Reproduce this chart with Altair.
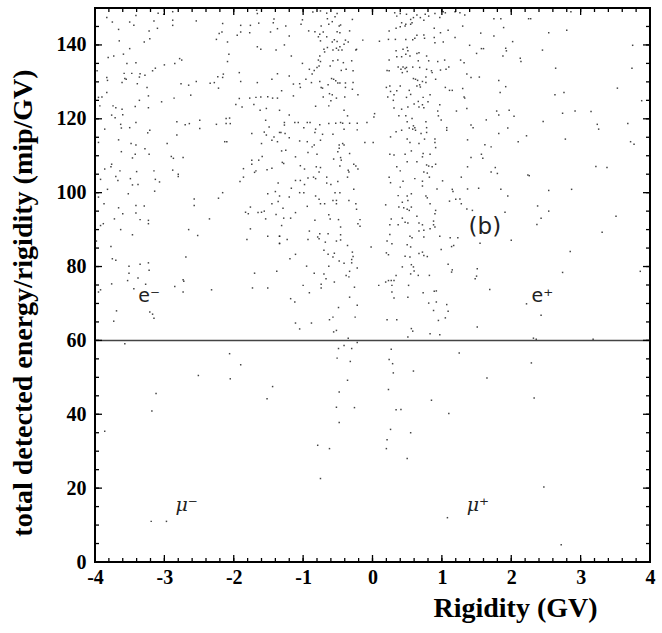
import altair as alt
import pandas as pd

# ---- data (rigidity GV, energy/rigidity mip/GV) ----
pts_upper_left = [
(-3.09,148.6),(-3.01,148.3),(-2.88,149.0),(-1.66,148.5),(-1.67,149.4),(-3.41,148.0),(-3.83,147.4),(-3.75,146.2),
(-3.50,146.2),(-3.44,145.3),(-3.15,146.5),(-2.88,146.7),(-2.88,145.3),(-2.54,146.5),(-2.16,145.8),(-1.90,145.3),
(-1.76,145.3),(-1.64,145.9),(-1.42,147.0),(-1.43,146.0),(-3.66,144.2),(-3.22,143.8),(-3.10,144.5),(-2.17,143.5),
(-2.21,143.1),(-1.90,143.5),(-1.77,143.3),(-1.47,143.5),(-1.95,142.6),(-1.37,144.4),(-3.21,141.7),(-3.29,140.8),
(-3.65,141.1),(-2.25,141.5),(-2.09,140.8),(-1.66,139.5),(-1.61,138.8),(-1.39,138.6),(-3.50,139.0),(-3.59,137.5),
(-3.73,137.0),(-3.81,136.6),(-2.07,137.5),(-2.78,136.3),(-2.75,135.9),(-2.85,135.0),(-3.54,135.0),(-3.41,135.2),
(-2.09,135.5),(-3.00,134.6),(-3.13,133.7),(-3.17,133.0),(-3.97,133.0),(-3.58,132.3),(-3.47,132.3),(-3.35,132.2),
(-3.36,131.3),(-3.28,131.8),(-3.55,130.7),(-3.57,130.9),(-3.83,131.2),(-3.82,130.4),(-3.61,129.8),(-3.39,129.5),
(-2.54,130.1),(-2.76,129.5),(-2.65,129.1),(-2.34,129.6),(-2.28,129.8),(-2.22,128.3),(-2.15,132.1),(-2.16,131.2),
(-2.23,131.4),(-1.92,132.5),(-1.90,130.1),(-1.66,129.8),(-1.37,132.2),(-1.45,130.7),(-3.25,128.5),(-3.83,127.1),
(-3.90,125.9),(-3.95,125.8),(-3.23,126.2),(-3.36,125.0),(-2.86,125.6),(-2.62,126.4),(-1.92,125.5),(-1.77,125.6),
(-1.68,125.8),(-1.61,125.9),(-1.51,126.0),(-1.44,125.6),(-1.37,125.6),(-3.04,124.6),(-3.93,123.5),(-3.74,123.5),
(-3.70,123.0),(-3.61,122.6),(-3.42,123.3),(-3.23,123.0),(-1.97,123.9),(-1.88,123.2),(-1.71,123.9),(-1.62,122.3),
(-1.53,122.8),(-1.34,122.3),(-3.76,121.0),(-3.71,120.3),(-3.60,121.1),(-2.06,120.2),(-2.11,120.1),(-3.41,119.0),
(-3.63,118.5),(-2.82,119.2),(-2.70,118.4),(-2.64,118.7),(-2.49,119.6),(-2.49,117.4),(-2.25,118.5),(-2.11,118.7),
(-2.05,118.7),(-1.54,119.6),(-1.49,117.8),(-3.50,117.6),(-3.62,117.5),(-3.86,117.2),(-3.21,116.9),(-3.24,116.2),
(-2.82,115.6),(-1.74,116.0),(-1.56,116.4),(-1.53,115.6),(-1.34,116.3),(-1.42,115.1),(-1.45,114.2),(-1.37,113.8),
(-3.66,114.3),(-3.95,113.6),(-3.48,113.3),(-3.41,112.9),(-2.96,113.3),(-2.13,113.8),(-2.10,113.8),(-1.60,113.3),
(-3.28,111.9),(-3.22,110.4),(-3.62,111.1),(-3.42,110.4),(-3.46,109.4),(-2.90,109.8),(-2.87,109.3),(-2.73,109.5),
(-1.59,109.8),(-1.64,108.8),(-1.74,108.8),(-1.74,107.7),(-3.76,107.7),(-3.77,107.0),(-3.86,106.4),(-3.64,105.9),
(-3.40,105.7),(-3.15,105.9),(-2.88,106.1),(-1.86,106.5),(-1.68,105.9),(-1.70,105.5),(-1.52,106.2),(-1.45,106.6),
(-2.80,105.0),
]

pts_upper_mid = [
(-0.86,148.9),(-0.75,149.2),(-0.66,148.6),(-0.51,148.5),(-0.29,146.9),(0.32,148.7),(0.35,147.8),(0.40,148.5),
(0.49,148.3),(0.55,146.9),(0.59,147.4),(0.64,148.1),(0.69,147.4),(0.76,148.3),(0.81,147.8),(0.74,146.7),
(0.90,148.5),(1.02,149.0),(1.05,148.7),(1.19,149.0),(0.97,147.4),(1.26,148.7),(-1.01,146.8),(-0.65,147.1),
(-0.54,147.6),(-0.58,146.3),(-0.48,145.1),(-0.46,145.4),(-0.63,145.6),(-0.74,145.1),(-0.83,143.6),(-0.92,143.8),
(-0.76,142.9),(-0.71,143.5),(-0.51,143.6),(-0.47,143.3),(-0.33,143.8),(-1.25,145.1),(-1.03,145.6),(-1.20,142.4),
(-1.27,140.0),(-0.75,141.1),(-0.78,142.2),(-0.66,142.2),(-0.55,141.4),(-0.58,140.8),(-0.51,140.9),(-0.39,141.3),
(-0.35,140.8),(-0.41,140.2),(-0.52,139.1),(-0.47,139.5),(-0.44,138.6),(-0.49,138.6),(-0.57,138.6),(-0.70,138.8),
(-0.69,138.1),(-0.65,139.3),(-0.24,138.6),(-0.14,141.3),(0.10,141.0),(0.24,143.8),(0.23,141.5),(0.33,141.5),
(0.34,144.5),(0.40,144.9),(0.42,146.0),(0.47,145.1),(0.48,145.6),(0.55,145.6),(0.57,146.0),(0.48,141.5),
(0.58,141.4),(0.61,141.8),(0.64,142.6),(0.74,142.7),(0.75,141.8),(0.89,144.5),(0.89,142.0),(0.90,140.6),
(0.98,143.3),(1.02,140.8),(1.09,144.0),(1.19,142.0),(1.30,145.1),(-1.17,137.0),(-1.01,135.0),(-0.76,137.0),
(-0.78,135.9),(-0.75,135.5),(-0.80,133.9),(-0.77,134.3),(-0.61,134.3),(-0.57,135.7),(-0.50,135.9),(-0.42,135.2),
(-0.30,135.7),(-0.23,138.8),(-0.45,133.1),(-0.38,133.4),(-0.28,133.0),(-0.91,133.4),(-0.84,133.1),(-0.87,132.1),
(-0.96,130.7),(-1.05,129.5),(-1.04,128.5),(-1.14,129.4),(-0.88,129.8),(-0.76,130.1),(-0.74,128.5),(-0.72,128.3),
(-0.59,130.9),(-0.56,130.7),(-0.53,130.3),(-0.50,129.7),(-0.64,129.2),(-0.47,129.7),(-0.39,129.7),(-0.39,128.5),
(-0.29,128.0),(-0.28,129.8),(-0.71,125.9),(-0.62,126.8),(-0.58,126.5),(-0.60,124.9),(-0.63,123.5),(-0.52,125.6),
(-0.40,125.9),(-0.21,126.5),(-0.82,123.4),(-1.14,126.2),(-1.31,127.6),(-1.20,131.6),(0.34,138.4),(0.35,136.8),
(0.44,138.8),(0.50,139.3),(0.48,137.5),(0.42,136.8),(0.54,137.0),(0.51,138.4),(0.64,137.7),(0.67,137.9),
(0.78,137.0),(0.66,135.7),(0.24,135.9),(0.24,133.0),(0.37,134.0),(0.41,133.4),(0.44,134.0),(0.47,133.6),
(0.43,132.5),(0.49,133.9),(0.50,132.8),(0.58,134.0),(0.68,133.9),(0.59,130.9),(0.62,130.7),(0.65,130.4),
(0.72,130.1),(0.68,129.2),(0.77,131.3),(0.78,133.4),(0.81,135.7),(0.86,132.5),(0.94,135.5),(0.91,130.7),
(0.85,133.0),(0.98,133.2),(1.04,135.9),(1.06,133.4),(1.10,134.0),(1.05,128.5),(1.11,127.7),(1.30,128.2),
(1.32,135.2),(1.15,127.7),(1.27,135.9),(0.21,133.1),(0.20,128.5),(0.25,128.9),(0.26,127.4),(0.22,125.9),
(0.31,126.5),(0.30,125.0),(0.35,127.6),(0.40,128.9),(0.49,125.8),(0.53,127.7),(0.55,126.6),(0.60,124.0),
(0.66,124.7),(0.67,123.2),(0.72,123.8),(0.74,123.0),(0.80,124.6),(0.83,126.5),(0.73,125.8),(0.69,128.6),
(0.64,128.9),(0.77,129.8),(0.51,123.2),(0.42,122.6),(0.31,122.9),(0.48,120.8),(0.38,120.8),(0.50,119.2),
(0.57,120.1),(0.61,117.6),(0.59,118.1),(0.62,116.9),(0.58,117.2),(0.53,117.5),(0.70,116.0),(0.77,119.2),
(0.78,117.6),(0.78,116.3),(0.95,120.8),(0.94,122.1),(0.97,123.8),(0.99,119.7),(1.07,117.6),(1.07,116.9),
(1.21,122.1),(1.32,125.9),(0.42,116.9),(0.26,115.1),(0.34,116.5),(0.54,113.6),(0.67,113.3),(0.75,114.5),
(0.90,114.5),(0.90,113.6),(0.91,112.2),(0.50,114.5),(0.47,110.4),(0.50,108.4),(0.56,111.3),(0.73,110.6),
(0.72,109.7),(0.78,107.5),(0.81,107.2),(0.86,107.0),(0.91,107.7),(0.74,105.6),(0.79,105.3),(0.64,108.4),
(0.35,107.0),(0.40,105.9),(0.31,110.2),(0.25,110.4),(0.83,110.4),(0.03,121.4),(0.02,120.5),(-0.08,119.0),
(-0.22,117.0),(-0.22,118.8),(-0.36,120.8),(-0.33,118.8),(-0.41,122.3),(-0.43,118.8),(-0.46,119.0),(-0.53,118.8),
(-0.63,118.7),(-0.41,117.2),(-0.57,115.8),(-0.72,115.8),(-0.83,116.3),(-0.82,117.2),(-0.76,118.4),(-0.90,119.0),
(-0.94,119.0),(-0.99,117.6),(-1.07,119.0),(-1.12,119.0),(-1.27,119.0),(-1.20,121.0),(-1.27,118.3),(-1.26,116.0),
(-1.20,114.9),(-1.32,116.3),(-1.05,114.0),(-0.94,113.8),(-0.87,112.4),(-0.84,112.9),(-0.75,114.2),(-0.93,110.9),
(-0.80,110.4),(-0.48,112.9),(-0.48,112.0),(-0.43,113.3),(-0.41,112.9),(-0.50,111.1),(-0.33,110.6),(-0.46,109.5),
(-0.45,108.8),(-0.56,109.1),(-0.81,107.0),(-0.75,106.8),(-0.98,106.4),(-0.77,105.6),(-0.47,107.2),(-0.35,106.1),
(-0.34,105.6),(-0.27,107.7),(-0.24,107.2),(-0.21,106.4),(-0.11,113.6),(0.01,113.6),(-1.04,107.3),(-1.30,108.2),
(-1.28,107.9),(-1.11,109.7),(-1.25,111.5),(-1.31,111.3),
]

pts_upper_right = [
(1.33,148.1),(1.75,147.1),(1.85,147.1),(2.25,147.1),(2.28,147.1),(1.89,144.7),(1.56,143.2),(1.75,142.4),
(2.54,143.3),(2.80,144.0),(2.86,149.0),(2.02,140.9),(1.40,139.9),(1.57,139.0),(1.60,139.0),(1.92,139.1),
(1.93,138.4),(2.45,138.6),(1.50,137.7),(1.88,137.0),(2.13,136.4),(2.14,135.5),(2.64,133.7),(3.74,133.7),
(3.75,139.9),(1.36,132.1),(1.42,131.2),(1.54,131.3),(1.82,130.4),(1.92,128.7),(1.84,127.1),(2.63,126.5),
(2.76,127.1),(3.53,128.3),(3.88,124.9),(1.33,125.6),(1.36,122.8),(1.79,122.1),(1.97,122.3),(1.82,121.0),
(2.04,120.7),(1.64,119.7),(2.46,119.3),(2.74,121.5),(2.92,122.1),(3.15,122.0),(1.42,118.3),(1.45,117.6),
(3.24,118.5),(3.26,117.2),(3.68,118.7),(1.95,117.5),(1.82,116.0),(2.22,115.4),(2.10,113.8),(1.37,114.3),
(1.62,113.0),(1.71,112.4),(2.78,114.5),(3.72,113.8),(3.77,113.1),(1.57,110.4),(1.59,109.3),(1.42,109.5),
(1.37,107.0),(1.77,106.8),(1.71,105.6),(1.80,105.2),(2.24,104.8),(3.22,107.1),(3.38,106.8),
]

pts_mid_left = [
(-3.92,103.6),(-3.70,104.4),(-3.67,103.3),(-3.49,103.8),(-3.46,102.1),(-3.38,102.2),(-3.13,103.6),(-3.07,102.9),
(-2.80,104.4),(-3.82,100.9),(-3.52,99.7),(-3.14,100.4),(-3.95,98.8),(-3.87,97.0),(-3.66,95.9),(-3.60,94.3),
(-3.41,96.5),(-3.29,96.4),(-3.41,94.5),(-3.72,92.9),(-3.35,92.7),(-3.23,92.5),(-3.23,91.6),(-3.92,91.1),
(-3.88,91.6),(-3.63,90.0),(-3.46,88.6),(-2.57,98.3),(-2.57,96.5),(-2.22,98.5),(-2.16,100.0),(-2.35,92.9),
(-2.65,90.0),(-2.52,88.4),(-3.98,86.9),(-3.77,85.4),(-3.75,82.1),(-3.70,81.7),(-2.69,82.6),(-3.51,80.1),
(-3.35,80.6),(-3.23,81.0),(-3.22,79.0),(-3.51,78.2),(-3.38,76.9),(-3.53,76.2),(-3.76,75.3),(-3.27,75.2),
(-3.44,74.0),(-3.92,73.7),(-3.95,73.1),(-2.85,74.6),(-2.73,76.4),(-2.72,76.0),(-2.73,73.1),(-2.32,73.7),
(-1.86,104.2),(-1.91,103.0),(-1.36,102.6),(-1.40,100.3),(-1.51,99.7),(-1.34,99.1),(-1.36,97.6),(-1.45,97.0),
(-1.76,96.1),(-1.83,94.7),(-1.79,94.3),(-1.65,94.6),(-1.60,94.7),(-1.56,95.0),(-1.54,92.9),(-1.39,94.1),
(-1.76,90.2),(-1.81,87.3),(-1.51,88.2),(-1.34,88.2),(-1.34,86.3),(-1.70,78.2),(-1.38,78.7),(-1.73,74.2),
(-1.51,74.2),(-3.69,68.0),(-3.21,67.7),(-3.17,67.1),(-3.15,66.0),(-3.73,65.2),
]

pts_mid_center = [
(-1.11,103.3),(-1.04,103.3),(-0.98,102.2),(-0.93,104.0),(-0.85,104.2),(-0.82,103.8),(-0.66,104.2),(-0.66,102.6),
(-0.60,102.2),(-0.50,103.0),(-0.36,104.2),(-1.17,101.2),(-1.05,100.0),(-0.99,100.0),(-0.82,99.1),(-0.77,98.2),
(-0.75,97.0),(-0.69,97.0),(-0.57,97.9),(-0.52,97.9),(-0.52,97.0),(-0.54,100.0),(-0.47,100.0),(-0.34,97.9),
(-0.27,100.9),(-0.24,97.0),(-0.23,95.5),(-1.20,98.8),(-0.94,96.3),(-1.29,95.8),(-1.11,94.6),(-0.63,94.0),
(-0.61,92.9),(-0.49,92.7),(-0.83,92.5),(-1.28,93.1),(-1.18,93.1),(-1.31,91.1),(-0.91,89.6),(-0.76,88.9),
(-0.79,88.0),(-0.77,87.5),(-0.64,88.9),(-0.46,90.7),(-0.46,88.6),(-0.18,92.7),(-0.21,91.6),(-0.18,90.9),
(-1.34,88.2),(-1.23,87.3),(-0.93,87.3),(-0.68,86.6),(-0.52,86.9),(-0.46,87.2),(-0.36,85.7),(-1.34,86.2),
(-0.70,84.4),(-0.64,83.3),(-0.55,83.6),(-0.57,82.6),(-0.29,83.9),(-0.28,82.7),(-1.11,83.3),(-1.19,82.1),
(-0.48,81.5),(-0.41,80.9),(-0.30,81.9),(-0.30,81.0),(-0.63,80.1),(-0.95,80.1),(-0.84,78.2),(-0.70,78.0),
(-0.33,78.7),(-0.38,77.6),(-0.34,77.2),(-0.22,79.6),(-0.55,75.8),(-0.67,76.7),(-1.00,74.9),(-0.74,75.2),
(-0.74,74.2),(-0.26,74.4),(-0.91,72.9),(-1.18,71.3),(-1.12,70.4),(-0.33,71.7),(-0.22,69.5),(-0.49,68.9),
(-0.25,66.3),(-0.57,66.3),(-0.62,65.6),(-1.11,64.7),(-0.88,64.7),(-1.05,63.1),(-0.56,62.3),(-0.52,62.7),
(-0.35,60.6),(-0.02,85.3),(0.09,74.9),(0.24,104.2),(0.26,102.7),(0.40,101.5),(0.44,103.1),(0.61,103.8),
(0.72,103.1),(0.82,104.2),(0.72,101.8),(0.93,101.0),(1.01,103.2),(1.15,100.9),(1.16,100.3),(1.28,104.2),
(0.37,99.2),(0.50,99.1),(0.51,97.9),(0.43,97.4),(0.56,99.7),(0.45,95.9),(0.50,95.5),(0.56,96.1),
(0.53,95.2),(0.19,96.7),(0.38,96.1),(0.77,99.1),(0.79,98.6),(0.83,97.0),(1.11,97.7),(1.20,98.2),
(1.26,98.3),(1.28,97.0),(0.91,95.2),(0.90,94.3),(0.64,93.6),(0.27,92.9),(0.25,91.3),(0.37,91.3),
(0.43,93.1),(0.47,92.0),(0.51,91.8),(0.67,91.8),(0.72,91.3),(0.88,92.3),(0.88,91.3),(0.90,90.7),
(0.67,89.6),(0.74,89.8),(0.83,90.2),(0.25,88.7),(0.28,86.2),(0.21,86.9),(0.54,88.2),(0.57,87.8),
(0.50,85.9),(0.55,85.3),(0.74,88.0),(0.97,88.2),(1.12,87.8),(1.23,87.8),(1.17,85.7),(1.14,85.4),
(0.99,84.6),(0.20,83.7),(0.23,83.2),(0.47,82.8),(0.54,82.6),(0.67,83.5),(0.72,83.9),(0.74,83.0),
(0.79,82.7),(1.09,80.6),(1.15,79.1),(1.14,78.5),(0.43,79.9),(0.56,80.5),(0.59,79.9),(0.60,78.8),
(0.55,78.0),(0.66,77.6),(0.82,77.6),(0.34,77.6),(0.23,76.2),(0.19,75.8),(0.27,76.2),(0.31,76.2),
(0.28,74.9),(0.52,74.9),(0.28,73.1),(0.31,71.5),(0.51,71.7),(0.73,72.9),(0.89,73.3),(0.92,73.4),
(0.81,70.1),(0.92,70.4),(1.07,69.7),(0.88,68.1),(1.09,67.9),(0.95,65.4),(1.05,66.1),(0.21,65.6),
(0.56,63.2),(0.58,62.5),(0.83,61.8),(0.97,61.5),(0.51,60.9),(0.35,65.6),
]

pts_mid_right = [
(1.37,101.0),(1.53,101.2),(1.85,100.9),(1.95,99.1),(2.26,104.6),(2.54,100.6),(2.87,100.9),(1.36,95.6),
(1.44,95.2),(1.91,94.7),(2.38,96.4),(2.43,93.1),(2.54,95.0),(2.37,91.4),(2.00,87.1),(1.55,86.3),
(3.51,93.6),(3.31,89.3),(2.85,84.1),(1.51,79.4),(1.50,77.4),(1.48,76.7),(2.74,78.4),(3.86,78.7),
(1.69,73.8),(2.22,69.9),(2.43,66.8),(1.51,63.6),(2.32,60.6),(2.36,60.3),(3.18,60.3),
]

pts_below_cut = [
(-3.57,59.1),(-2.06,56.4),(-1.90,53.4),(-2.51,50.5),(-2.05,49.6),(-1.44,47.5),(-3.12,45.6),(-1.52,44.2),
(-3.18,40.9),(-3.86,35.4),(-3.19,11.0),(-2.97,11.0),(-0.79,31.6),(-0.62,30.7),(-0.75,22.6),(-0.49,57.8),
(-0.51,55.2),(-0.41,58.6),(-0.30,57.8),(-0.32,54.3),(-0.36,49.2),(-0.48,46.0),(-0.52,41.9),(-0.26,41.8),
(-0.48,37.8),(-0.22,59.4),(0.27,57.6),(0.24,54.8),(0.29,53.7),(0.30,51.2),(1.25,56.6),(0.59,51.7),
(1.65,49.8),(2.29,53.9),(0.23,46.7),(0.85,43.8),(2.33,44.4),(0.34,41.2),(0.41,41.3),(1.10,40.2),
(0.26,35.9),(0.55,35.0),(0.21,33.1),(0.20,30.7),(0.50,28.0),(2.47,20.3),(1.08,12.0),(2.72,4.7),
]

# annotation texts: label, rigidity, energy
notes_text = ["e\u207b", "e\u207a", "\u03bc\u207b", "\u03bc\u207a", "(b)"]
notes_x = [-3.22, 2.45, -2.68, 1.52, 1.62]
notes_y = [72.0, 72.0, 15.5, 15.5, 90.6]

x_major = [-4, -3, -2, -1, 0, 1, 2, 3, 4]
y_major = [0, 20, 40, 60, 80, 100, 120, 140]
cut_level = [60]
y_title = ["total detected energy/rigidity  (mip/GV)"]

# ---------------------------------------------------------------------------
all_pts = (pts_upper_left + pts_upper_mid + pts_upper_right + pts_mid_left
           + pts_mid_center + pts_mid_right + pts_below_cut)
df = pd.DataFrame(all_pts, columns=["rig", "ene"])

x_minor = [round(-4 + 0.2 * i, 1) for i in range(41)]
y_minor = [5 * i for i in range(31)]

W, H = 555, 554
XS = alt.Scale(domain=[-4, 4], nice=False, zero=False)
YS = alt.Scale(domain=[0, 150], nice=False, zero=False)

FONT = "Liberation Serif"

points = alt.Chart(df).mark_square(size=2.2, color="#222", opacity=0.85, clip=True).encode(
    x=alt.X("rig:Q", scale=XS,
            axis=alt.Axis(values=x_major, ticks=False, domain=False, grid=False,
                          labelExpr="'' + datum.value", labelFlush=False,
                          labelFont=FONT, labelFontWeight="bold", labelFontSize=20,
                          labelColor="#000", labelPadding=5,
                          title="Rigidity (GV)", titleFont=FONT, titleFontWeight="bold",
                          titleFontSize=28, titleColor="#000", titleX=420, titleY=46,
                          titleAnchor="middle", titleBaseline="middle")),
    y=alt.Y("ene:Q", scale=YS,
            axis=alt.Axis(values=y_major, ticks=False, domain=False, grid=False,
                          labelExpr="'' + datum.value", labelFlush=False,
                          labelFont=FONT, labelFontWeight="bold", labelFontSize=20,
                          labelColor="#000", labelPadding=9, title=None)),
)

ytitle = alt.Chart(pd.DataFrame({"t": y_title})).mark_text(
    font=FONT, fontWeight="bold", fontSize=28, color="#000", angle=270,
    align="center", baseline="middle"
).encode(text="t:N", x=alt.value(-71), y=alt.value(295))

cut = alt.Chart(pd.DataFrame({"y": cut_level})).mark_rule(color="#444", strokeWidth=1.5).encode(
    y=alt.Y("y:Q", scale=YS)
)

def xticks(vals, length):
    d = pd.DataFrame({"v": vals})
    bottom = alt.Chart(d).mark_rule(color="#000", strokeWidth=1.3).encode(
        x=alt.X("v:Q", scale=XS), y=alt.value(H), y2=alt.value(H - length))
    top = alt.Chart(d).mark_rule(color="#000", strokeWidth=1.3).encode(
        x=alt.X("v:Q", scale=XS), y=alt.value(0), y2=alt.value(length))
    return [bottom, top]

def yticks(vals, length):
    d = pd.DataFrame({"v": vals})
    left = alt.Chart(d).mark_rule(color="#000", strokeWidth=1.3).encode(
        y=alt.Y("v:Q", scale=YS), x=alt.value(0), x2=alt.value(length))
    right = alt.Chart(d).mark_rule(color="#000", strokeWidth=1.3).encode(
        y=alt.Y("v:Q", scale=YS), x=alt.value(W), x2=alt.value(W - length))
    return [left, right]

ndf = pd.DataFrame({"t": notes_text, "x": notes_x, "y": notes_y})
notes_e = alt.Chart(ndf.iloc[[0, 1]]).mark_text(
    font="DejaVu Sans", fontSize=19, color="#222", align="center", baseline="middle"
).encode(x=alt.X("x:Q", scale=XS), y=alt.Y("y:Q", scale=YS), text="t:N")
notes_b = alt.Chart(ndf.iloc[[4]]).mark_text(
    font="DejaVu Sans", fontSize=23, color="#222", align="center", baseline="middle"
).encode(x=alt.X("x:Q", scale=XS), y=alt.Y("y:Q", scale=YS), text="t:N")
notes_mu = alt.Chart(ndf.iloc[[2, 3]]).mark_text(
    font="DejaVu Serif", fontSize=19, fontStyle="italic", color="#222",
    align="center", baseline="middle"
).encode(x=alt.X("x:Q", scale=XS), y=alt.Y("y:Q", scale=YS), text="t:N")

layers = [points, cut] + xticks(x_minor, 4) + xticks(x_major, 7) \
    + yticks(y_minor, 4) + yticks(y_major, 7) + [notes_e, notes_b, notes_mu, ytitle]

chart = alt.layer(*layers).properties(
    width=W, height=H,
    autosize=alt.AutoSizeParams(type="none"),
    padding={"left": 95, "top": 8, "right": 12, "bottom": 71},
    background="white",
).configure_view(stroke="#000", strokeWidth=2)

chart.save("out.html", embed_options={"renderer": "svg", "actions": False})
